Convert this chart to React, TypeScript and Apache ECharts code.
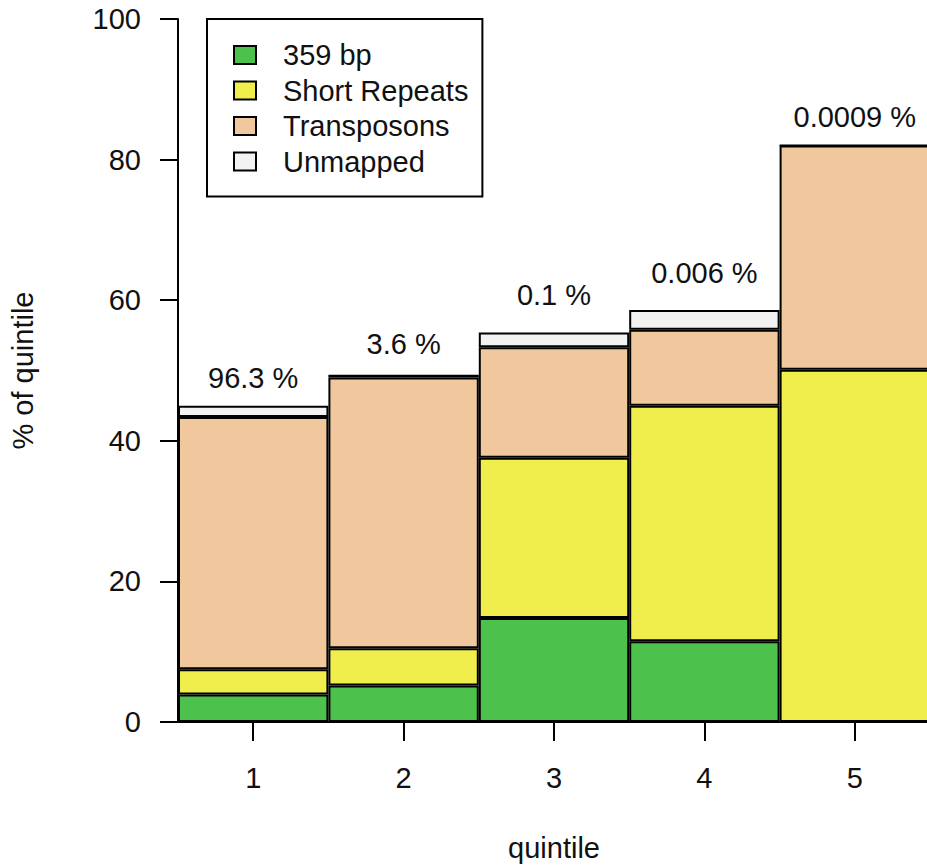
import React, { useEffect, useRef } from "react";
import * as echarts from "echarts";

const categories = ["1", "2", "3", "4", "5"];
const seriesNames = ["359 bp", "Short Repeats", "Transposons", "Unmapped"];
const bp359 = [3.9, 5.2, 14.8, 11.5, 0];
const shortRepeats = [3.6, 5.3, 22.8, 33.5, 50.1];
const transposons = [35.9, 38.5, 15.7, 10.8, 31.9];
const unmapped = [1.6, 0.4, 2.1, 2.8, 0];
const shareLabels = ["96.3 %", "3.6 %", "0.1 %", "0.006 %", "0.0009 %"];
const shareLabelY = [48.9, 53.7, 60.8, 63.9, 86.0];
const colors = ["#4cc14c", "#efee4c", "#f1c79d", "#f2f2f2"];

const FONT = "'Liberation Sans', Arial, sans-serif";
const TXT = "#111";
const FS = 29;

export default function App() {
  const ref = useRef<HTMLDivElement>(null);
  useEffect(() => {
    if (!ref.current) return;
    const chart = echarts.init(ref.current, null, { renderer: "svg" });
    const values = [bp359, shortRepeats, transposons, unmapped];
    const barSeries = seriesNames.map((name, i) => ({
      name,
      type: "bar",
      stack: "total",
      barCategoryGap: "0%",
      barGap: "0%",
      data: values[i],
      itemStyle: { color: colors[i], borderColor: "#000", borderWidth: 2 },
    }));
    chart.setOption({
      animation: false,
      textStyle: { fontFamily: FONT, color: TXT },
      grid: { left: 177, right: 0, top: 19, bottom: 145 },
      legend: {
        data: seriesNames,
        orient: "vertical",
        left: 207,
        top: 19,
        selectedMode: false,
        backgroundColor: "#fff",
        borderColor: "#000",
        borderWidth: 2,
        borderRadius: 0,
        padding: [21, 14, 20, 26],
        itemWidth: 22,
        itemHeight: 18,
        itemGap: 5.5,
        icon: "rect",
        textStyle: { fontSize: FS, color: TXT, fontFamily: FONT, lineHeight: 30, padding: [0, 0, 0, 22] },
      },
      xAxis: {
        type: "category",
        data: categories,
        name: "quintile",
        nameLocation: "middle",
        nameGap: 111,
        nameTextStyle: { fontSize: FS, color: TXT, fontFamily: FONT },
        axisLine: { show: true, lineStyle: { color: "#000", width: 2 } },
        axisTick: { show: true, alignWithLabel: true, length: 19, lineStyle: { color: "#000", width: 2 } },
        axisLabel: { fontSize: FS, color: TXT, fontFamily: FONT, margin: 41 },
      },
      yAxis: {
        type: "value",
        min: 0,
        max: 100,
        interval: 20,
        name: "% of quintile",
        nameLocation: "middle",
        nameRotate: 90,
        nameGap: 141,
        nameTextStyle: { fontSize: FS, color: TXT, fontFamily: FONT },
        splitLine: { show: false },
        axisLine: { show: true, lineStyle: { color: "#000", width: 2 } },
        axisTick: { show: true, length: 18, lineStyle: { color: "#000", width: 2 } },
        axisLabel: { fontSize: FS, color: TXT, fontFamily: FONT, margin: 37 },
      },
      series: [
        ...barSeries,
        {
          name: "share",
          type: "scatter",
          symbol: "circle",
          symbolSize: 0,
          silent: true,
          itemStyle: { color: "#000", opacity: 1 },
          data: categories.map((c, i) => [c, shareLabelY[i]]),
          label: {
            show: true,
            position: "inside",
            fontSize: FS,
            color: "#111",
            opacity: 1,
            textBorderWidth: 0,
            fontFamily: FONT,
            formatter: (p: any) => shareLabels[p.dataIndex],
          },
          z: 10,
        },
      ],
    });
    return () => chart.dispose();
  }, []);
  return (
    <div style={{ position: "fixed", left: 0, top: 0, width: 927, height: 867, overflow: "hidden", background: "#fff" }}>
      <div ref={ref} style={{ width: 930, height: 867 }} />
    </div>
  );
}
